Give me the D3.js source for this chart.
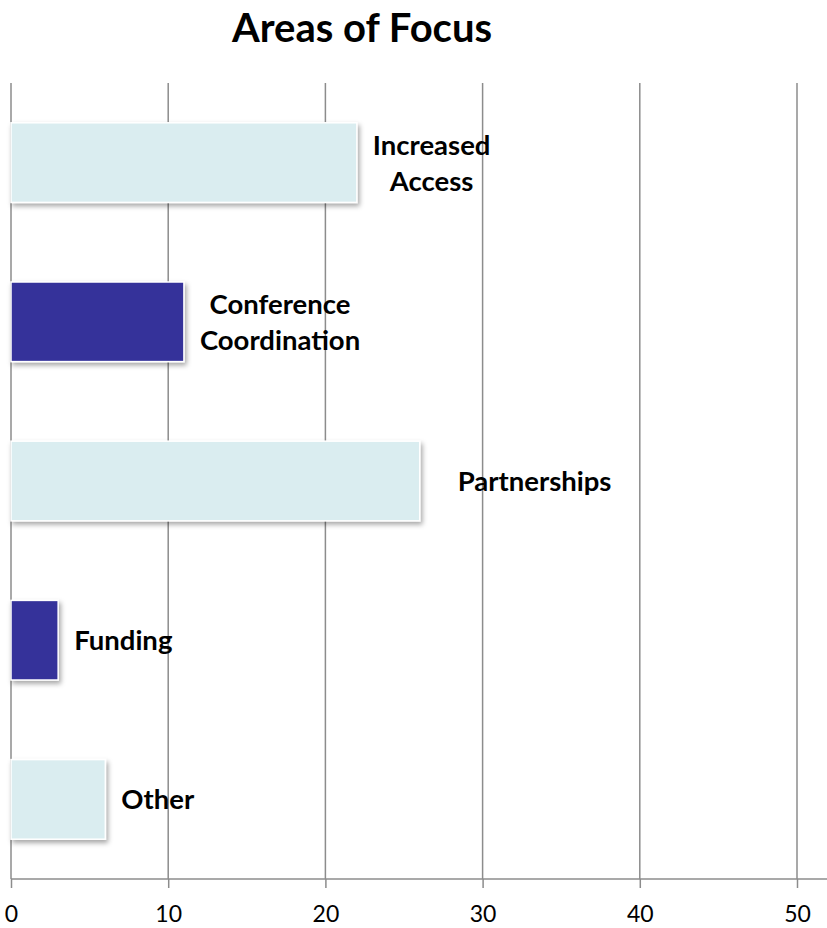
<!DOCTYPE html>
<meta charset="utf-8">
<style>
body {
	margin: 0;
	background-color: #ffffff;
}
.label, .title {
	font-family: Lato, sans-serif;
	font-weight: bold;
	fill: #000;
}
.axis text {
	font: 23px Lato, sans-serif;
	fill: #000;
}
.axis line, .axis path {
	stroke: #8c8c8c;
	stroke-width: 1.5;
}
</style>
<body>
<script src="https://d3js.org/d3.v7.min.js"></script>
<script>
var width = 827;
var height = 928;

// data
var categories = ['Increased Access', 'Conference Coordination', 'Partnerships', 'Funding', 'Other'];
var labelLines = [['Increased', 'Access'], ['Conference', 'Coordination'], ['Partnerships'], ['Funding'], ['Other']];
var values = [22, 11, 26, 3, 6];
var tickValues = [0, 10, 20, 30, 40, 50];

var lightColor = '#daedf0';
var darkColor = '#36339a';

var margin = {top: 83, right: 30, bottom: 49, left: 11};

var x = d3.scaleLinear()
	.domain([0, 50])
	.range([margin.left, 797]);

var y = d3.scaleBand()
	.domain(categories)
	.range([margin.top, height - margin.bottom])
	.paddingInner(0.5)
	.paddingOuter(0.25);

var svg = d3.select('body')
	.append('svg')
	.attr('width', width)
	.attr('height', height);

var defs = svg.append('defs');
var shadow = defs.append('filter')
	.attr('id', 'shadow')
	.attr('x', '-10%').attr('y', '-10%')
	.attr('width', '130%').attr('height', '140%');
shadow.append('feDropShadow')
	.attr('dx', 2)
	.attr('dy', 3)
	.attr('stdDeviation', 2.5)
	.attr('flood-color', '#000')
	.attr('flood-opacity', 0.35);

// title
svg.append('text')
	.attr('class', 'title')
	.attr('x', 362)
	.attr('y', 42)
	.attr('text-anchor', 'middle')
	.style('font-size', '40px')
	.text('Areas of Focus');

// gridlines
svg.append('g')
	.selectAll('line')
	.data(tickValues)
	.enter()
	.append('line')
	.attr('x1', function(d) { return x(d); })
	.attr('x2', function(d) { return x(d); })
	.attr('y1', margin.top)
	.attr('y2', height - margin.bottom)
	.style('stroke', '#8c8c8c')
	.style('stroke-width', 1.5);

// bars
svg.append('g')
	.selectAll('rect')
	.data(values)
	.enter()
	.append('rect')
	.attr('x', x(0))
	.attr('y', function(d, i) { return y(categories[i]); })
	.attr('width', function(d) { return x(d) - x(0); })
	.attr('height', y.bandwidth())
	.style('fill', function(d, i) { return i % 2 ? darkColor : lightColor; })
	.style('stroke', '#ffffff')
	.style('stroke-width', 1.5)
	.attr('filter', 'url(#shadow)');

// labels
var labels = svg.append('g')
	.selectAll('text')
	.data(values)
	.enter()
	.append('text')
	.attr('class', 'label')
	.style('font-size', '27.5px')
	.attr('text-anchor', 'middle');

labels.each(function(d, i) {
	var t = d3.select(this);
	var lines = labelLines[i];
	var cy = y(categories[i]) + y.bandwidth() / 2;
	lines.forEach(function(line, j) {
		t.append('tspan')
			.attr('y', cy + 10 + (j - (lines.length - 1) / 2) * 36)
			.text(line);
	});
	var w = d3.max(t.selectAll('tspan').nodes(), function(n) { return n.getComputedTextLength(); });
	var extra = categories[i] === 'Partnerships' ? 22 : 0;
	t.selectAll('tspan').attr('x', x(d) + 16 + extra + w / 2);
});

// x axis
svg.append('g')
	.attr('class', 'axis')
	.attr('transform', 'translate(0,' + (height - margin.bottom) + ')')
	.call(d3.axisBottom(x).tickValues(tickValues).tickSize(9).tickSizeOuter(0))
	.call(function(g) {
		g.select('.domain').attr('d', 'M' + x(0) + ',0H' + width);
		g.selectAll('.tick text').attr('dy', null).attr('y', 43);
	});
</script>
</body>
